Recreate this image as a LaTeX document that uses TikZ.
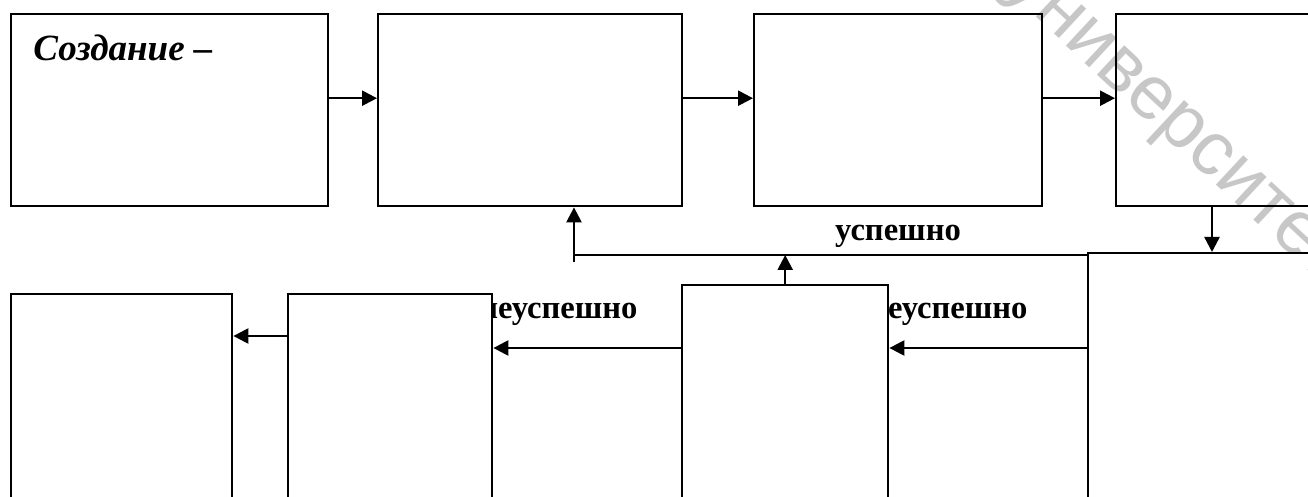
\documentclass[tikz,border=0pt]{standalone}
\usepackage{fontspec}
\setmainfont{Liberation Serif}
\newfontfamily\wmfont{Liberation Sans}
\usetikzlibrary{arrows.meta}

\begin{document}
\begin{tikzpicture}[x=0.5pt, y=-0.5pt,
  box/.style={draw, line width=1.2pt, inner sep=0pt, anchor=north west},
  arr/.style={line width=1.2pt, -{Triangle[length=7.5pt,width=7.5pt]}},
  lbl/.style={font=\fontsize{16.3}{20}\selectfont\bfseries, inner sep=0pt}]
\useasboundingbox (0,0) rectangle (1308,497);
\clip (0,0) rectangle (1308,497);
% watermark
\node[text=black!22, rotate=-43, font=\wmfont\fontsize{38}{46}\selectfont] (wm) at (1172,127) {университет};
% labels (partly under the boxes)
\node[lbl, anchor=base west] (fail1) at (479,319) {неуспешно};
\node[lbl, anchor=base west] (fail2) at (869,319) {неуспешно};
\node[lbl, anchor=base] (ok) at (898,241) {успешно};
% top row
\node[box, minimum width=158.5pt, minimum height=96pt] (b1) at (10,13) {};
\node[box, minimum width=152pt, minimum height=96pt] (b2) at (377,13) {};
\node[box, minimum width=144pt, minimum height=96pt] (b3) at (753,13) {};
\node[box, minimum width=150pt, minimum height=96pt] (b4) at (1115,13) {};
\node[font=\fontsize{18.5}{22}\selectfont\bfseries\itshape, anchor=base west, inner sep=0pt] (title) at (33,61) {Создание –};
% bottom row
\node[box, minimum width=150pt, minimum height=150pt] (b5) at (1087,252) {};
\node[box, fill=white, minimum width=103pt, minimum height=130pt] (b6) at (681,284) {};
\node[box, fill=white, minimum width=102pt, minimum height=125pt] (b7) at (287,293) {};
\node[box, minimum width=110.5pt, minimum height=125pt] (b8) at (10,293) {};
% arrows
\draw[arr] ([yshift=6pt]b1.east) -- ([yshift=6pt]b2.west);
\draw[arr] ([yshift=6pt]b2.east) -- ([yshift=6pt]b3.west);
\draw[arr] ([yshift=6pt]b3.east) -- ([yshift=6pt]b4.west);
\draw[arr] ([xshift=48.5pt]b4.south west) -- ([xshift=48.5pt]b4.south west |- b5.north);
\coordinate (fb) at (574,262);
\coordinate (fj) at (574,255);
\draw[arr] (fb) -- (fb |- b2.south);
\draw[line width=1pt] (fj) -- (fj -| b5.west);
\draw[arr] (b6.north) -- (b6.north |- fj);
\draw[arr] ([yshift=-48pt]b5.north west) -- ([yshift=-48pt]b5.north west -| b6.east);
\draw[arr] ([yshift=-32pt]b6.north west) -- ([yshift=-32pt]b6.north west -| b7.east);
\draw[arr] ([yshift=-21.5pt]b7.north west) -- ([yshift=-21.5pt]b7.north west -| b8.east);
\end{tikzpicture}
\end{document}
